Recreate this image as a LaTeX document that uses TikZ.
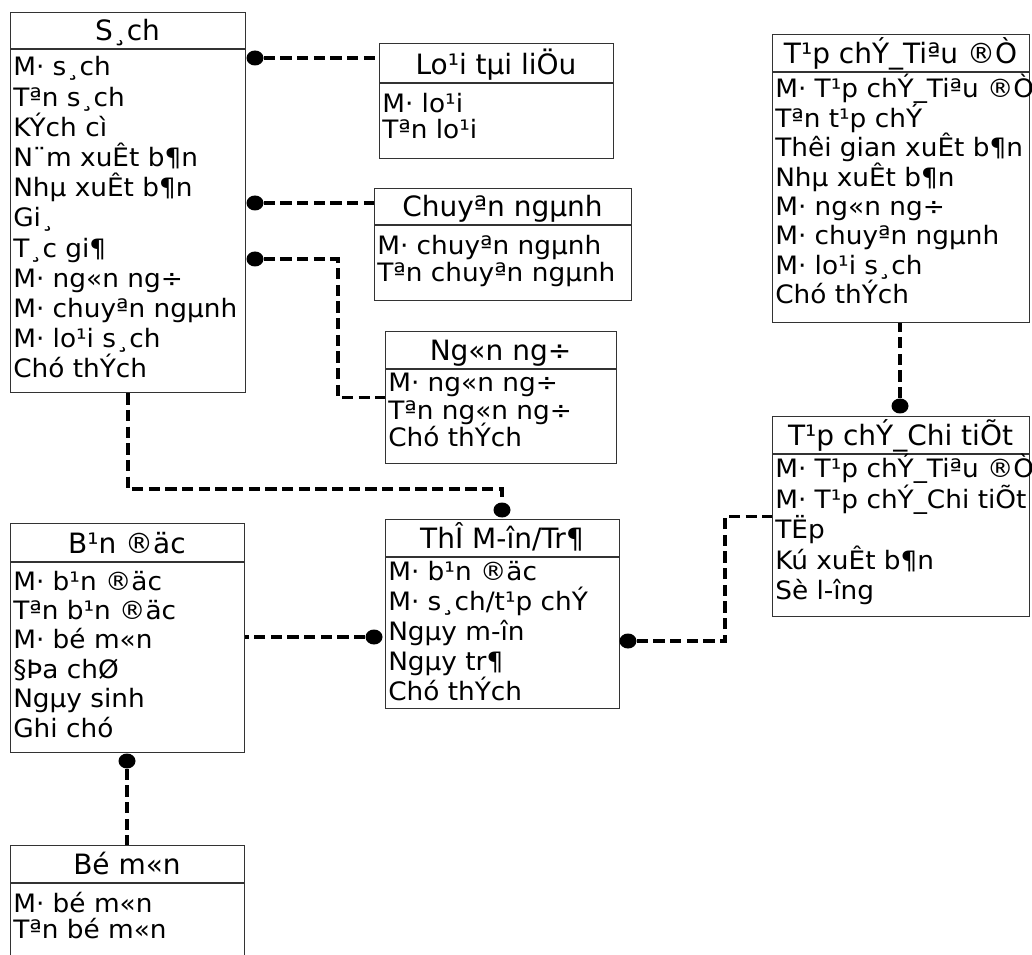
\documentclass[tikz,border=0pt]{standalone}
\usepackage{fontspec}
\setmainfont{DejaVu Sans}
\newfontfamily\rowfont[FakeStretch=1.04]{DejaVu Sans}
\usetikzlibrary{calc,shapes.geometric}

\tikzset{
  entity/.style={draw=black!80, line width=0.9pt, anchor=north west, inner sep=0pt},
  rule/.style={draw=black!80, line width=0.9pt},
  hdr/.style={anchor=base, inner sep=0pt, font=\fontsize{21}{25}\selectfont},
  row/.style={anchor=base west, inner sep=0pt, font=\rowfont\fontsize{19}{22}\selectfont},
  link/.style={line width=2.6pt, dash pattern=on 8.5pt off 4pt},
  knob/.style={ellipse, fill=black, inner sep=0pt, minimum width=12.75pt, minimum height=11.25pt},
}

% frame of an entity: name, left, top, right, bottom, header rule, title
\newcommand\erframe[7]{%
  \node[entity, minimum width={(#4-#2)*0.75pt}, minimum height={(#5-#3)*0.75pt}] (#1) at (#2,#3) {};
  \draw[rule] ($(#1.north west)+(0,#6-#3)$) -- ($(#1.north east)+(0,#6-#3)$);
  \node[hdr] (#1-title) at ({(#2+#4)/2},{#6-8.5}) {#7};
}
% attribute rows: name, left, first baseline, step, list
\newcommand\errows[5]{%
  \foreach \rowtext [count=\rowidx] in {#5}
    \node[row] (#1-\rowidx) at (#2+3, {#3+(\rowidx-1)*#4}) {\rowtext};
}

\begin{document}
\begin{tikzpicture}[x=0.75pt, y=-0.75pt]
\useasboundingbox (0,0) rectangle (1032,955);

% entities
\erframe{sach}{10}{12}{245}{392}{49}{S¸ch}
\errows{sach}{10}{76}{30.2}{M· s¸ch, Tªn s¸ch, KÝch cì, N¨m xuÊt b¶n, Nhµ xuÊt b¶n, Gi¸, T¸c gi¶, M· ng«n ng÷, M· chuyªn ngµnh, M· lo¹i s¸ch, Chó thÝch}

\erframe{loai}{379}{43}{613}{158}{83}{Lo¹i tµi liÖu}
\errows{loai}{379}{113}{26}{M· lo¹i, Tªn lo¹i}

\erframe{chuyen}{374}{188}{631}{300}{225}{Chuyªn ngµnh}
\errows{chuyen}{374}{255}{27}{M· chuyªn ngµnh, Tªn chuyªn ngµnh}

\erframe{ngon}{385}{331}{616}{463}{369}{Ng«n ng÷}
\errows{ngon}{385}{392}{27.5}{M· ng«n ng÷, Tªn ng«n ng÷, Chó thÝch}

\erframe{tieude}{772}{34}{1029}{322}{72}{T¹p chÝ\_Tiªu ®Ò}
\errows{tieude}{772}{98}{29.4}{M· T¹p chÝ\_Tiªu ®Ò, Tªn t¹p chÝ, Thêi gian xuÊt b¶n, Nhµ xuÊt b¶n, M· ng«n ng÷, M· chuyªn ngµnh, M· lo¹i s¸ch, Chó thÝch}

\erframe{ct}{772}{416}{1029}{616}{454}{T¹p chÝ\_Chi tiÕt}
\errows{ct}{772}{478}{30.4}{M· T¹p chÝ\_Tiªu ®Ò, M· T¹p chÝ\_Chi tiÕt, TËp, Kú xuÊt b¶n, Sè l-îng}

\erframe{muon}{385}{519}{619}{708}{557}{ThÎ M-în/Tr¶}
\errows{muon}{385}{580}{30}{M· b¹n ®äc, M· s¸ch/t¹p chÝ, Ngµy m-în, Ngµy tr¶, Chó thÝch}

\erframe{docgia}{10}{523}{244}{752}{562}{B¹n ®äc}
\errows{docgia}{10}{590}{29.4}{M· b¹n ®äc, Tªn b¹n ®äc, M· bé m«n, §Þa chØ, Ngµy sinh, Ghi chó}

\erframe{bomon}{10}{845}{244}{980}{883}{Bé m«n}
\errows{bomon}{10}{912}{26}{M· bé m«n, Tªn bé m«n}

% relationship ends
\node[knob] (k1) at (255,58) {};
\node[knob] (k2) at (255,203) {};
\node[knob] (k3) at (255,259) {};
\node[knob] (k4) at (502,510) {};
\node[knob] (k5) at (374,637) {};
\node[knob] (k6) at (628,641) {};
\node[knob] (k7) at (900,406) {};
\node[knob] (k8) at (127,761) {};

% relationships
\draw[link] (k1) -- (k1 -| loai.west);
\draw[link] (k2) -- (k2 -| chuyen.west);
\coordinate (b3) at (338,259);
\draw[link] (k3) -- (b3) |- (ngon.west);
\draw[link] (sach.south) -- ++(0,96) -| (k4);
\draw[link] (k5) -- (k5 -| docgia.east);
\coordinate (b6) at (725,641);
\draw[link] (k6) -- (b6) |- (ct.west);
\draw[link] (k7) -- (k7 |- tieude.south);
\draw[link] (k8) -- (k8 |- bomon.north);
\end{tikzpicture}
\end{document}
